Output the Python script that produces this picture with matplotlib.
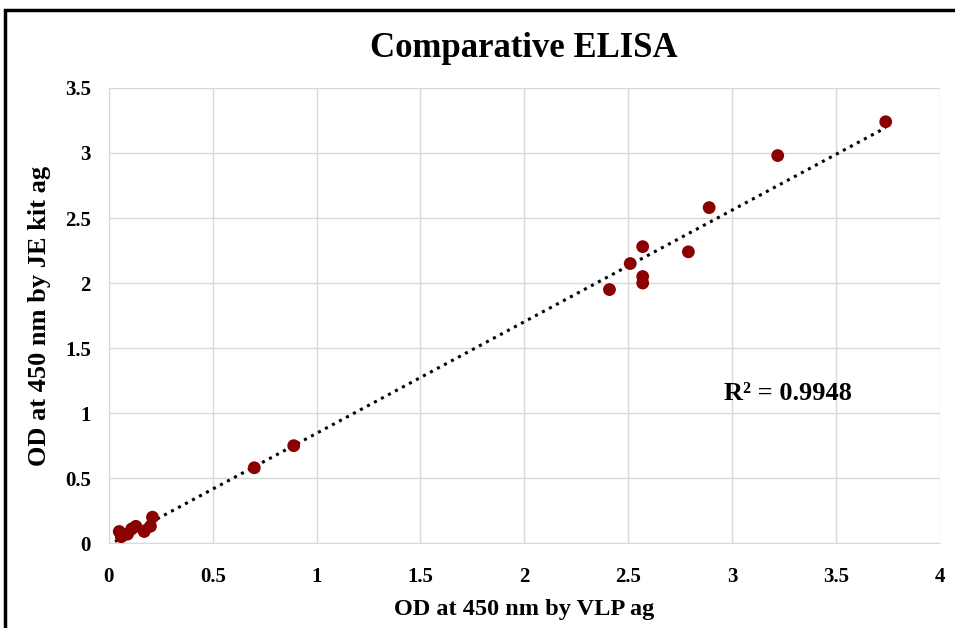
import numpy as np
import matplotlib.pyplot as plt
from matplotlib.patches import Rectangle

# values
vlp_od = [0.05, 0.06, 0.09, 0.11, 0.13, 0.17, 0.20, 0.21,
          0.70, 0.89, 2.41, 2.51, 2.57, 2.57, 2.57, 2.79, 2.89, 3.22, 3.74]
kit_od = [0.09, 0.05, 0.07, 0.11, 0.13, 0.09, 0.13, 0.20,
          0.58, 0.75, 1.95, 2.15, 2.00, 2.05, 2.28, 2.24, 2.58, 2.98, 3.24]
x_ticks = [0, 0.5, 1, 1.5, 2, 2.5, 3, 3.5, 4]
y_ticks = [0, 0.5, 1, 1.5, 2, 2.5, 3, 3.5]
r2_label = "R² = 0.9948"

plt.rcParams['font.family'] = ['Liberation Serif', 'DejaVu Serif']
plt.rcParams['font.weight'] = 'bold'

fig = plt.figure(figsize=(9.55, 6.28), dpi=100)
ax = fig.add_axes([0.114, 0.135, 0.870, 0.725])

x = np.array(vlp_od)
y = np.array(kit_od)
slope, intercept = np.polyfit(x, y, 1)
xs = np.array([x.min() - 0.02, x.max()])
ax.plot(xs, slope * xs + intercept, color='black', linestyle=(0, (1, 1.6)), linewidth=2.2, zorder=2)
ax.scatter(x, y, s=85, color='#8B0000', edgecolors='none', zorder=3)

ax.set_xlim(0, 4)
ax.set_ylim(0, 3.5)
ax.set_xticks(x_ticks)
ax.set_yticks(y_ticks)
ax.set_xticklabels([f"{t:g}" for t in x_ticks])
ax.set_yticklabels([f"{t:g}" for t in y_ticks])
ax.tick_params(length=0, labelsize=15)
ax.tick_params(axis='x', pad=17)
ax.tick_params(axis='y', pad=13)
ax.grid(True, color='#d9d9d9', linewidth=1)
ax.set_axisbelow(True)
for side in ['top', 'right']:
    ax.spines[side].set_visible(False)
for side in ['left', 'bottom']:
    ax.spines[side].set_color('#d9d9d9')

ax.set_xlabel("OD at 450 nm by VLP ag", fontsize=17.5, fontweight='bold', labelpad=9)
ax.set_ylabel("OD at 450 nm by JE kit ag", fontsize=19, fontweight='bold', labelpad=10)
ax.set_title("Comparative ELISA", fontsize=25, fontweight='bold', pad=22)
ax.text(2.96, 1.1, r2_label, fontsize=19, fontweight='bold')

# black frame around the chart, cut off at right and bottom
fig.add_artist(Rectangle((5 / 955, -0.1), 1.1, 1.1 - 10 / 628,
                         transform=fig.transFigure, fill=False,
                         edgecolor='black', linewidth=2.5))

fig.savefig('out.png', dpi=100)
